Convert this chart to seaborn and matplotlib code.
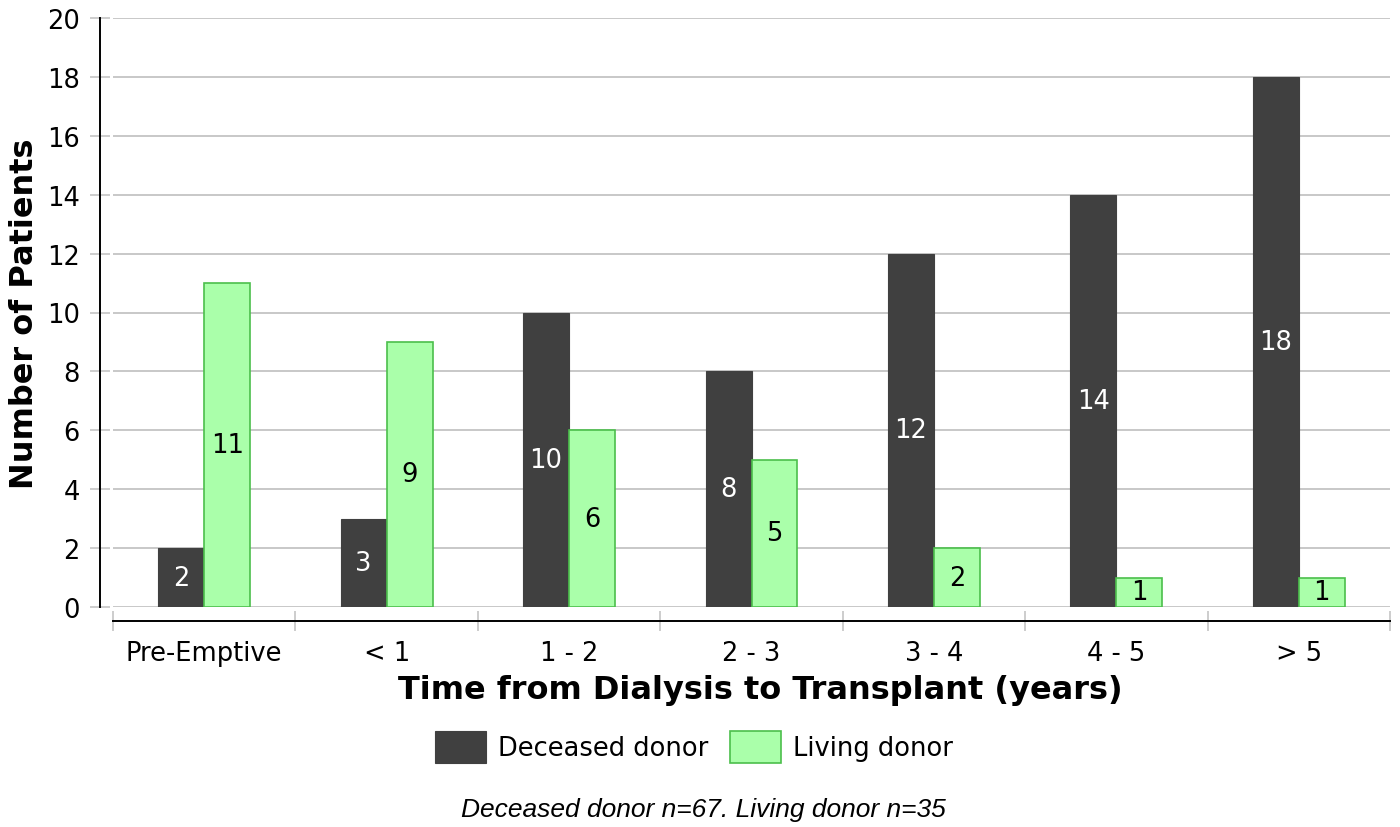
import matplotlib
matplotlib.use("Agg")
import matplotlib.pyplot as plt
from matplotlib.patches import Patch
from matplotlib.ticker import FixedLocator, MultipleLocator
import seaborn as sns
import pandas as pd

categories = ["Pre-Emptive", "< 1", "1 - 2", "2 - 3", "3 - 4", "4 - 5", "> 5"]
deceased = [2, 3, 10, 8, 12, 14, 18]
living = [11, 9, 6, 5, 2, 1, 1]
series_names = ["Deceased donor", "Living donor"]
x_title = "Time from Dialysis to Transplant (years)"
y_title = "Number of Patients"
footnote = "Deceased donor n=67. Living donor n=35"

dark = "#404040"
green_fill = "#aaffaa"
green_edge = "#4cbf4c"

df = pd.DataFrame({
    "period": categories * 2,
    "count": deceased + living,
    "donor": [series_names[0]] * len(categories) + [series_names[1]] * len(categories),
})

sns.set_theme(style="white")
plt.rcParams["font.family"] = ["DejaVu Sans"]
plt.rcParams["text.color"] = "black"
plt.rcParams["axes.labelcolor"] = "black"
plt.rcParams["xtick.labelcolor"] = "black"
plt.rcParams["ytick.labelcolor"] = "black"

fig = plt.figure(figsize=(14, 8.28), dpi=100)
W, H = 1400, 828
left, right, top, bottom = 113, 1390, 19, 608
ax = fig.add_axes([left / W, 1 - bottom / H, (right - left) / W, (bottom - top) / H])

sns.barplot(data=df, x="period", y="count", hue="donor", order=categories,
            hue_order=series_names, palette=[dark, green_fill], width=0.504,
            gap=0, saturation=1, legend=False, ax=ax, zorder=3)

for p in ax.containers[0]:
    p.set_edgecolor(dark)
    p.set_linewidth(0.8)
for p in ax.containers[1]:
    p.set_edgecolor(green_edge)
    p.set_linewidth(1.2)

ax.bar_label(ax.containers[0], label_type="center", color="white", fontsize=18.5)
ax.bar_label(ax.containers[1], label_type="center", color="black", fontsize=18.5)

ax.set_xlim(-0.5, len(categories) - 0.5)
ax.set_ylim(0, 20)
ax.yaxis.set_major_locator(MultipleLocator(2))
ax.grid(axis="y", color="#c8c8c8", linewidth=1.4, zorder=0)
ax.set_axisbelow(True)

for s in ["top", "right"]:
    ax.spines[s].set_visible(False)
ax.spines["left"].set_position(("outward", 9.4))
ax.spines["bottom"].set_position(("outward", 10))
ax.spines["left"].set_color("black")
ax.spines["bottom"].set_color("black")
ax.spines["left"].set_linewidth(1.4)
ax.spines["bottom"].set_linewidth(1.4)

ax.tick_params(axis="y", direction="inout", length=15, width=1.1, color="#c0c0c0",
               labelsize=18.5, labelcolor="black", pad=7, left=True)
ax.xaxis.set_minor_locator(FixedLocator([i - 0.5 for i in range(len(categories) + 1)]))
ax.tick_params(axis="x", which="major", length=0, labelsize=18.5, labelcolor="black", pad=14)
ax.tick_params(axis="x", which="minor", direction="inout", length=15, width=1.1,
               color="#c0c0c0", bottom=True)

ax.set_xlabel(x_title, fontsize=23, fontweight="bold", va="center", color="black")
ax.set_ylabel(y_title, fontsize=23, fontweight="bold", va="center", color="black")
ax.xaxis.set_label_coords((760 - left) / (right - left), -(691 - bottom) / (bottom - top))
ax.yaxis.set_label_coords(-(113 - 25) / (right - left), 0.5)

handles = [Patch(facecolor=dark, edgecolor=dark, linewidth=0.8),
           Patch(facecolor=green_fill, edgecolor=green_edge, linewidth=1.2)]
fig.legend(handles, series_names, loc="center", bbox_to_anchor=(694 / W, 1 - 748 / H),
           ncol=2, frameon=False, fontsize=18.5, handlelength=2.0, handleheight=1.5,
           handletextpad=0.45, columnspacing=0.85, borderpad=0, labelcolor="black")

fig.text(703 / W, 1 - 810 / H, footnote, ha="center", va="center", fontsize=19,
         style="italic", color="black", family=["Liberation Sans", "DejaVu Sans"])

fig.savefig("out.png", dpi=100)
